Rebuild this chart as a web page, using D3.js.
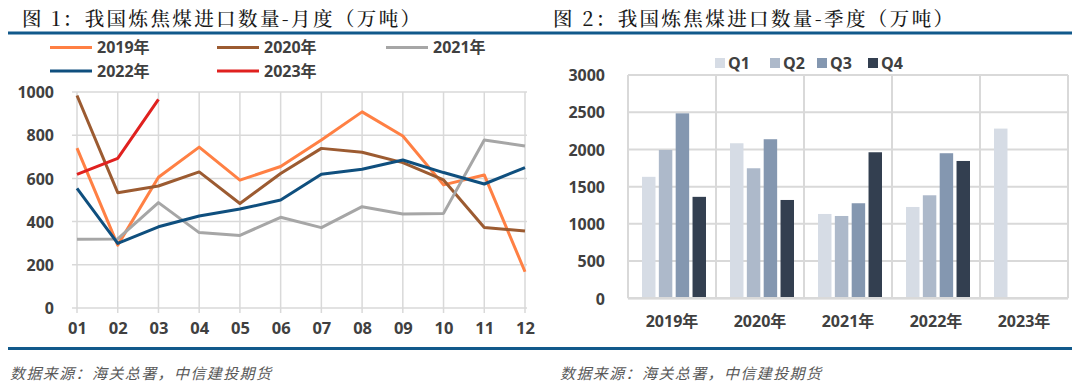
<!DOCTYPE html>
<html><head><meta charset="utf-8">
<script src="https://cdn.jsdelivr.net/npm/d3@7/dist/d3.min.js"></script>
<style>
body{margin:0;background:#fff;}
svg{display:block;}
.ax text{font-family:"Open Sans","Noto Sans CJK SC",sans-serif;font-weight:700;fill:#404040;}
</style></head>
<body>
<svg id="c" width="1080" height="388"></svg>
<script>
// ---------- data ----------
const months = ["01","02","03","04","05","06","07","08","09","10","11","12"];
const monthlyYears = ["2019年","2020年","2021年","2022年","2023年"];
const m2019 = [740,291,605,745,592,655,778,908,796,570,616,168];
const m2020 = [984,534,565,630,484,623,739,721,673,593,373,356];
const m2021 = [318,320,488,349,336,420,372,469,435,438,778,750];
const m2022 = [554,299,376,426,458,500,619,642,685,627,574,650];
const m2023 = [619,693,966];
const monthlyTicks = [0,200,400,600,800,1000];

const qYears = ["2019年","2020年","2021年","2022年","2023年"];
const quarters = ["Q1","Q2","Q3","Q4"];
const q1 = [1632,2083,1133,1227,2280];
const q2 = [1993,1747,1106,1384,null];
const q3 = [2485,2137,1277,1949,null];
const q4 = [1363,1321,1962,1845,null];
const qTicks = [0,500,1000,1500,2000,2500,3000];

const lineColors = ["#FF8044","#9C5B31","#A6A6A6","#0F4F7E","#E0211F"];
const barColors = ["#D6DCE5","#ADB9CA","#8497B0","#333F50"];

const svg = d3.select("#c");

// ---------- frame ----------
svg.append("rect").attr("x",8).attr("y",31.5).attr("width",1064).attr("height",3).attr("fill","#11598B");
svg.append("rect").attr("x",8).attr("y",347).attr("width",1064).attr("height",3).attr("fill","#11598B");

const titleFont = '"Noto Serif CJK SC","DejaVu Serif","Noto Sans CJK SC",serif';
[["图 1：我国炼焦煤进口数量-月度（万吨）",22],["图 2：我国炼焦煤进口数量-季度（万吨）",553]].forEach(([t,x])=>{
  svg.append("text").attr("x",x).attr("y",26).attr("font-family",titleFont).attr("font-size",19.5)
    .attr("fill","#1a1a1a").attr("font-weight",500).attr("letter-spacing",2.4).text(t);
});

const srcFont = '"Noto Sans CJK SC",sans-serif';
[10,560].forEach(x=>{
  svg.append("text").attr("x",x).attr("y",379).attr("font-family",srcFont).attr("font-size",15)
    .attr("font-style","italic").attr("fill","#595959").attr("letter-spacing",1.4)
    .text("数据来源：海关总署，中信建投期货");
});

// ---------- chart 1: lines ----------
const x1 = d3.scalePoint().domain(months).range([77,525]);
const y1 = d3.scaleLinear().domain([0,1000]).range([308,92]);

const g1 = svg.append("g");
g1.selectAll("line.h").data(monthlyTicks).join("line")
  .attr("x1",72).attr("x2",527).attr("y1",d=>y1(d)).attr("y2",d=>y1(d))
  .attr("stroke","#D9D9D9").attr("stroke-width",1.5);
g1.selectAll("line.v").data(months).join("line")
  .attr("x1",d=>x1(d)).attr("x2",d=>x1(d)).attr("y1",y1(1000)).attr("y2",y1(0)+5)
  .attr("stroke","#D9D9D9").attr("stroke-width",1.5);

const yAx1 = g1.append("g").attr("class","ax").attr("transform","translate(72,0)")
  .call(d3.axisLeft(y1).tickValues(monthlyTicks).tickSize(0).tickPadding(18).tickFormat(d3.format("d")));
yAx1.select(".domain").remove();
yAx1.selectAll("text").attr("font-size",16).attr("dy","0.36em");

const xAx1 = g1.append("g").attr("class","ax").attr("transform","translate(0,308)")
  .call(d3.axisBottom(x1).tickSize(0).tickPadding(14));
xAx1.select(".domain").remove();
xAx1.selectAll("text").attr("font-size",16.5);

const series = [m2019,m2020,m2021,m2022,m2023];
const line = d3.line().x((d,i)=>x1(months[i])).y(d=>y1(d));
series.forEach((s,k)=>{
  g1.append("path").datum(s).attr("d",line).attr("fill","none")
    .attr("stroke",lineColors[k]).attr("stroke-width",3).attr("stroke-linejoin","round");
});

const legPos = [[50,47.5],[217,47.5],[386,47.5],[50,71],[217,71]];
monthlyYears.forEach((name,k)=>{
  const [lx,ly] = legPos[k];
  svg.append("line").attr("x1",lx).attr("x2",lx+42).attr("y1",ly).attr("y2",ly)
    .attr("stroke",lineColors[k]).attr("stroke-width",3);
  svg.append("text").attr("x",lx+47).attr("y",ly).attr("dy","0.36em")
    .attr("font-family",'"Open Sans","Noto Sans CJK SC",sans-serif').attr("font-weight",700)
    .attr("font-size",16).attr("fill","#404040").text(name);
});

// ---------- chart 2: bars ----------
const x2 = d3.scaleBand().domain(qYears).range([628,1068]).paddingInner(0).paddingOuter(0);
const y2 = d3.scaleLinear().domain([0,3000]).range([298.3,75]);
const xq = d3.scaleBand().domain(quarters).range([0,64]).paddingInner(0.2).paddingOuter(0);

const g2 = svg.append("g");
g2.selectAll("line.h").data(qTicks).join("line")
  .attr("x1",628).attr("x2",1068).attr("y1",d=>y2(d)).attr("y2",d=>y2(d))
  .attr("stroke","#D9D9D9").attr("stroke-width",2);
const vlines = [628, ...qYears.map(d=>x2(d)+x2.bandwidth())];
g2.selectAll("line.v").data(vlines).join("line")
  .attr("x1",d=>d).attr("x2",d=>d).attr("y1",y2(3000)).attr("y2",y2(0))
  .attr("stroke","#D9D9D9").attr("stroke-width",2);

const qData = [q1,q2,q3,q4];
qYears.forEach((yr,i)=>{
  const off = x2(yr) + (x2.bandwidth()-64)/2 + 2;
  quarters.forEach((q,k)=>{
    const v = qData[k][i];
    if(v==null) return;
    g2.append("rect").attr("x",off+xq(q)).attr("width",xq.bandwidth())
      .attr("y",y2(v)).attr("height",y2(0)-y2(v)).attr("fill",barColors[k]);
  });
});
g2.append("line").attr("x1",628).attr("x2",1068).attr("y1",y2(0)).attr("y2",y2(0))
  .attr("stroke","#D9D9D9").attr("stroke-width",2.5);

const yAx2 = g2.append("g").attr("class","ax").attr("transform","translate(628,0)")
  .call(d3.axisLeft(y2).tickValues(qTicks).tickSize(0).tickPadding(23).tickFormat(d3.format("d")));
yAx2.select(".domain").remove();
yAx2.selectAll("text").attr("font-size",16).attr("dy","0.36em");

const xAx2 = g2.append("g").attr("class","ax").attr("transform","translate(0,298)")
  .call(d3.axisBottom(x2).tickSize(0).tickPadding(18));
xAx2.select(".domain").remove();
xAx2.selectAll("text").attr("font-size",16);

const qLegX = [715,770,817,868];
quarters.forEach((q,k)=>{
  svg.append("rect").attr("x",qLegX[k]).attr("y",58).attr("width",10).attr("height",10).attr("fill",barColors[k]);
  svg.append("text").attr("x",qLegX[k]+13).attr("y",63).attr("dy","0.36em")
    .attr("font-family",'"Open Sans",sans-serif').attr("font-weight",700)
    .attr("font-size",16).attr("fill","#404040").text(q);
});
</script>
</body></html>
